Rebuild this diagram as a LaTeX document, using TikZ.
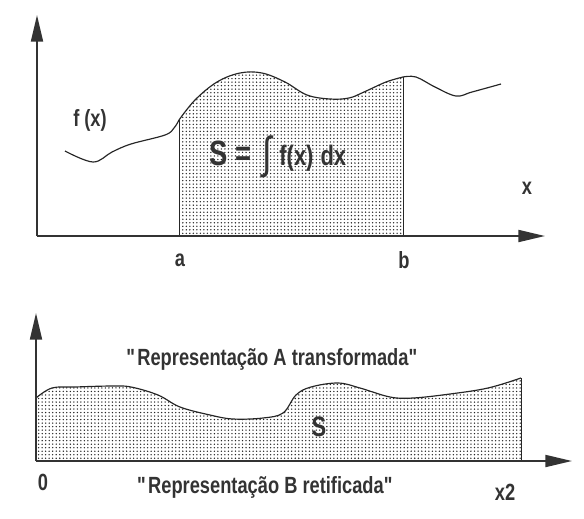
\documentclass[tikz,border=0pt]{standalone}
\usepackage{fontspec}
\setmainfont{Liberation Sans}[FakeStretch=0.78]
\usetikzlibrary{arrows.meta, patterns.meta}
\tikzset{
    axis/.style={line width=1.6pt, black!80, -{Triangle[length=0.8cm, width=0.36cm]}},
    curve/.style={line width=1pt, black!85},
    edge/.style={line width=0.8pt, black!85},
    area/.style={pattern={Dots[radius=0.65pt, distance=3pt]}, pattern color=black!85},
    lbl/.style={font=\fontsize{20}{22}\selectfont\bfseries, text=black!80, inner sep=0pt}
}
\begin{document}
\begin{tikzpicture}[x=0.03cm, y=-0.03cm]
    \useasboundingbox (0,0) rectangle (584,518);
    % upper graph: area under f(x) between a and b
    \fill[area] (179,236) -- plot[smooth, tension=0.6] coordinates {(179,120) (195,100) (217,82) (240,73) (262,73) (285,82) (307,95) (330,99) (349,98) (364,92) (386,82) (403,77)} -- (403,236) -- cycle;
    \draw[curve] plot[smooth, tension=0.6] coordinates {(65,151) (93,162) (112,152) (131,144) (165,135) (174,128) (179,120)};
    \draw[curve] plot[smooth, tension=0.6] coordinates {(179,120) (195,100) (217,82) (240,73) (262,73) (285,82) (307,95) (330,99) (349,98) (364,92) (386,82) (403,77)};
    \draw[curve] plot[smooth, tension=0.6] coordinates {(403,77) (416,77) (435,87) (456,96) (472,92) (501,84)};
    \draw[edge] (179,236) -- (179,120);
    \draw[edge] (403,236) -- (403,77);
    \draw[axis] (37,236) -- (37,15);
    \draw[axis] (37,236) -- (545,236);
    \node[lbl] (fx) at (90,120) {f (x)};
    \node[lbl] (xlab) at (527,188) {x};
    \node[lbl] (alab) at (180,260) {a};
    \node[lbl] (blab) at (404,260) {b};
    \node[inner sep=0pt, text=black!80, font=\bfseries] (integral) at (278,157)
        {{\fontsize{30}{32}\selectfont S\hspace{6pt}=\hspace{10pt}}\raisebox{-3pt}{\fontsize{38}{40}\mdseries\selectfont ∫}\hspace{6pt}{\fontsize{24}{26}\selectfont f(x)\hspace{6pt}dx}};
    % lower graph: rectified representation
    \fill[area] (36,461) -- plot[smooth, tension=0.6] coordinates {(36,398) (52,388) (75,387) (112,386) (131,387) (158,395) (180,407) (210,415) (233,419) (263,418) (283,413) (296,395) (311,387) (338,383) (360,388) (390,397) (413,398) (450,394) (488,388) (521,378)} -- (521,461) -- cycle;
    \draw[curve] plot[smooth, tension=0.6] coordinates {(36,398) (52,388) (75,387) (112,386) (131,387) (158,395) (180,407) (210,415) (233,419) (263,418) (283,413) (296,395) (311,387) (338,383) (360,388) (390,397) (413,398) (450,394) (488,388) (521,378)};
    \draw[edge] (521,461) -- (521,378);
    \draw[axis] (36,461) -- (36,313);
    \draw[axis] (36,461) -- (572,461);
    \node[lbl] (transf) at (273,359) {\textquotedbl Representação A transformada\textquotedbl};
    \node[lbl, font=\fontsize{24}{26}\selectfont\bfseries] (slab) at (319,427) {S};
    \node[lbl] (zero) at (43,482) {0};
    \node[lbl] (retif) at (266,487) {\textquotedbl Representação B retificada\textquotedbl};
    \node[lbl] (xtwo) at (505,492) {x2};
\end{tikzpicture}
\end{document}
